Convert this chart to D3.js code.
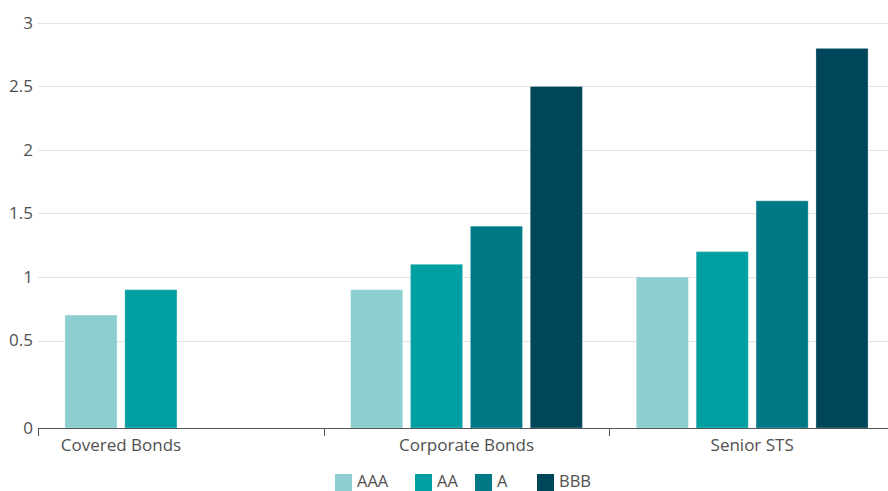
<!DOCTYPE html>
<html>
<head>
<meta charset="utf-8">
<script src="https://cdn.jsdelivr.net/npm/d3@7"></script>
<style>
  body { margin: 0; background: #fff; }
  text { font-family: "Open Sans", "Noto Sans", sans-serif; fill: #505050; }
</style>
</head>
<body>
<div id="chart"></div>
<script>
// categories and ratings
const categories = ["Covered Bonds", "Corporate Bonds", "Senior STS"];
const ratings = ["AAA", "AA", "A", "BBB"];
// values per category, in rating order (null = not present)
const aaa = [0.7, 0.9, 1.0];
const aa = [0.9, 1.1, 1.2];
const a = [null, 1.4, 1.6];
const bbb = [null, 2.5, 2.8];
const yTicks = [0, 0.5, 1, 1.5, 2, 2.5, 3];

const colors = ["#8dcfd0", "#009fa1", "#007986", "#00465a"];
const series = [aaa, aa, a, bbb];

const width = 888, height = 491;
const margin = { left: 38, right: -7, top: 23, bottom: 63 };
const baseline = height - margin.bottom; // 428

const svg = d3.select("#chart").append("svg")
    .attr("width", width)
    .attr("height", height);

const x0 = d3.scaleBand()
    .domain(categories)
    .range([margin.left, width - margin.right])
    .paddingInner(0);

const x1 = d3.scaleBand()
    .domain(ratings)
    .range([0, x0.bandwidth()])
    .paddingInner(0.13)
    .paddingOuter(0.45);

// zero sits lower than the regular tick spacing in the reference
const y = d3.scaleLinear()
    .domain([0, 0.5, 3])
    .range([baseline, 340.5, margin.top]);

// gridlines
svg.append("g")
    .selectAll("line")
    .data(yTicks.filter(d => d > 0))
    .enter().append("line")
    .attr("x1", margin.left)
    .attr("x2", width)
    .attr("y1", d => Math.round(y(d)) + 0.5)
    .attr("y2", d => Math.round(y(d)) + 0.5)
    .attr("stroke", "#e2e2e2")
    .attr("stroke-width", 1);

// y labels
svg.append("g")
    .selectAll("text")
    .data(yTicks)
    .enter().append("text")
    .attr("x", margin.left - 5)
    .attr("y", d => y(d))
    .attr("dy", "0.35em")
    .attr("text-anchor", "end")
    .attr("font-size", "17px")
    .text(d => d);

// bars
const rows = [];
categories.forEach((c, i) => {
    ratings.forEach((r, j) => {
        if (series[j][i] != null) rows.push({ cat: c, rating: r, value: series[j][i], color: colors[j] });
    });
});

svg.append("g")
    .selectAll("rect")
    .data(rows)
    .enter().append("rect")
    .attr("x", d => x0(d.cat) + x1(d.rating))
    .attr("y", d => y(d.value))
    .attr("width", x1.bandwidth())
    .attr("height", d => baseline - y(d.value))
    .attr("fill", d => d.color)
    .attr("stroke", "#fff")
    .attr("stroke-opacity", 0.25)
    .attr("stroke-width", 1);

// x axis line and ticks
svg.append("line")
    .attr("x1", margin.left)
    .attr("x2", width)
    .attr("y1", baseline + 0.5)
    .attr("y2", baseline + 0.5)
    .attr("stroke", "#555")
    .attr("stroke-width", 1);

svg.append("g")
    .selectAll("line")
    .data(categories)
    .enter().append("line")
    .attr("x1", d => Math.round(x0(d)) + 0.5)
    .attr("x2", d => Math.round(x0(d)) + 0.5)
    .attr("y1", baseline)
    .attr("y2", baseline + 8)
    .attr("stroke", "#555");

// category labels centred on the bars present in each group
svg.append("g")
    .selectAll("text")
    .data(categories)
    .enter().append("text")
    .attr("x", (d, i) => {
        const present = ratings.filter((r, j) => series[j][i] != null);
        const left = x0(d) + x1(present[0]);
        const right = x0(d) + x1(present[present.length - 1]) + x1.bandwidth();
        return (left + right) / 2;
    })
    .attr("y", baseline + 17)
    .attr("dy", "0.35em")
    .attr("text-anchor", "middle")
    .attr("font-size", "17px")
    .text(d => d);

// legend
const legendX = [335, 415, 475, 537];
const legend = svg.append("g")
    .selectAll("g")
    .data(ratings)
    .enter().append("g")
    .attr("transform", (d, i) => `translate(${legendX[i]},${474})`);

legend.append("rect")
    .attr("width", 17)
    .attr("height", 17)
    .attr("fill", (d, i) => colors[i]);

legend.append("text")
    .attr("x", 22)
    .attr("y", 8)
    .attr("dy", "0.3em")
    .attr("font-size", "16.5px")
    .text(d => d);
</script>
</body>
</html>
